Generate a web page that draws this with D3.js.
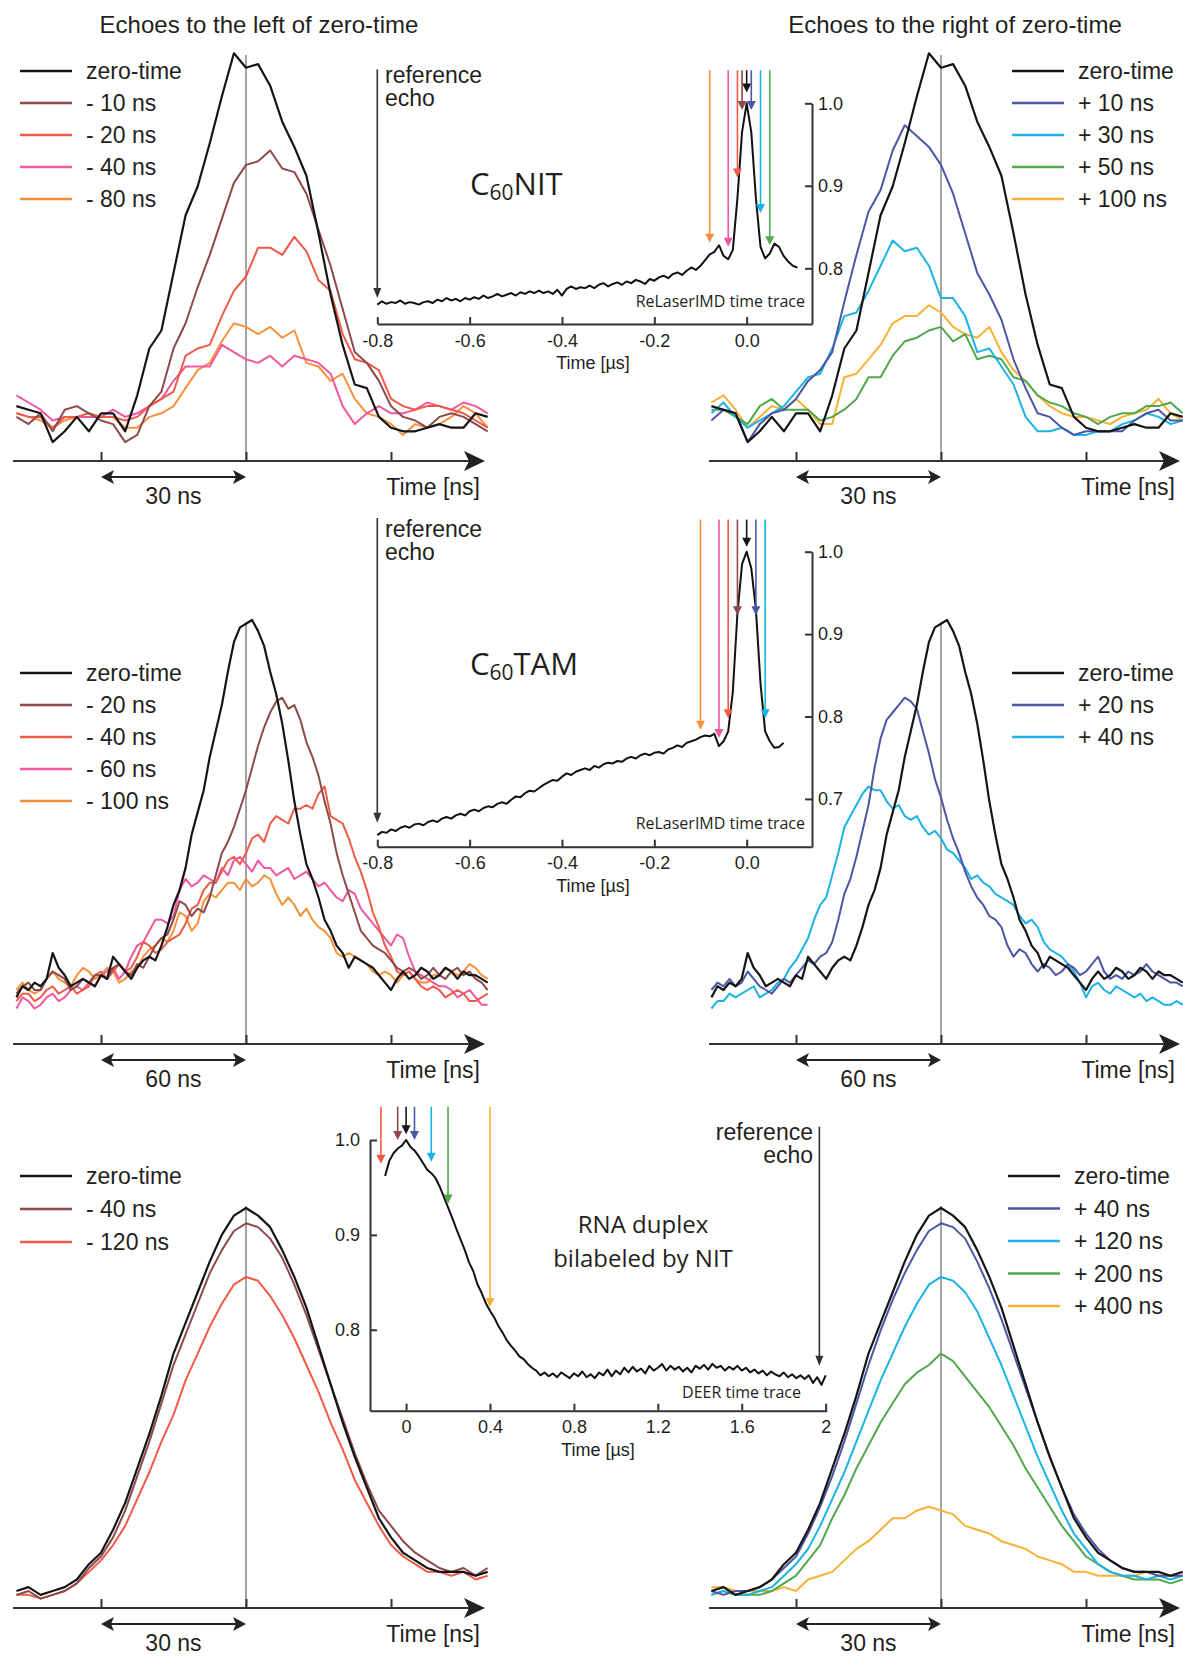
<!DOCTYPE html>
<html>
<head>
<meta charset="utf-8">
<script src="https://cdn.jsdelivr.net/npm/d3@7"></script>
<style>
body { margin: 0; background: #fff; }
</style>
</head>
<body>
<svg id="fig" width="1183" height="1656"></svg>
<script>
// ---- sampling grids (ns) ----
const tEcho = d3.range(-47.5, 50.01, 2.5);     // 30 ns panels
const tEchoWide = d3.range(-95, 100.01, 2.5);  // 60 ns panels

// ---- C60NIT echoes (relative amplitude) ----
const nitZero   = [0.02,0.01,0.0,-0.08,-0.05,-0.01,-0.05,0.0,0.0,-0.05,0.05,0.18,0.23,0.39,0.55,0.63,0.75,0.88,1.0,0.96,0.97,0.91,0.81,0.74,0.66,0.50,0.33,0.19,0.08,0.07,-0.01,-0.04,-0.05,-0.05,-0.04,-0.03,-0.04,-0.04,0.0,-0.01];
const nitMinus10 = [-0.01,-0.03,0.0,-0.05,0.01,0.02,0.0,-0.02,-0.03,-0.08,-0.06,0.02,0.06,0.18,0.25,0.35,0.44,0.54,0.64,0.69,0.70,0.73,0.68,0.67,0.61,0.51,0.41,0.29,0.17,0.14,0.09,0.02,-0.01,-0.02,-0.04,-0.01,0.0,-0.01,-0.03,-0.05];
const nitMinus20 = [0.0,-0.01,-0.01,-0.04,-0.01,-0.01,0.0,-0.01,-0.01,-0.02,-0.01,0.02,0.04,0.06,0.16,0.18,0.19,0.27,0.34,0.38,0.46,0.46,0.44,0.49,0.45,0.37,0.34,0.22,0.15,0.14,0.12,0.04,0.02,0.01,0.02,0.02,0.01,0.0,-0.02,-0.04];
const nitMinus40 = [0.05,0.03,0.01,-0.02,-0.01,-0.01,-0.01,-0.01,0.01,-0.01,0.0,0.02,0.04,0.09,0.13,0.13,0.13,0.19,0.17,0.15,0.14,0.16,0.13,0.16,0.15,0.14,0.11,0.02,-0.03,0.0,0.02,0.0,0.0,0.01,0.03,0.02,0.01,0.03,0.02,0.0];
const nitMinus80 = [0.0,-0.01,-0.02,-0.04,-0.02,-0.01,-0.01,-0.01,-0.01,-0.04,-0.04,-0.01,0.0,0.02,0.07,0.12,0.14,0.20,0.25,0.24,0.22,0.24,0.21,0.23,0.14,0.13,0.09,0.11,0.04,0.0,-0.01,-0.03,-0.06,-0.03,-0.04,-0.03,-0.01,0.02,0.0,-0.04];
const nitPlus10  = [-0.02,0.01,0.0,-0.08,-0.03,0.0,0.01,0.04,0.09,0.12,0.17,0.31,0.44,0.56,0.62,0.73,0.80,0.77,0.74,0.69,0.61,0.50,0.39,0.33,0.26,0.15,0.07,0.0,-0.01,-0.04,-0.06,-0.05,-0.05,-0.05,-0.05,-0.02,0.0,0.01,-0.02,-0.02];
const nitPlus30  = [0.0,0.03,-0.01,-0.04,-0.02,0.0,0.02,0.06,0.10,0.11,0.18,0.27,0.28,0.34,0.41,0.48,0.45,0.46,0.41,0.32,0.32,0.27,0.17,0.18,0.13,0.08,-0.01,-0.05,-0.05,-0.04,-0.06,-0.06,-0.05,-0.05,-0.03,-0.02,0.0,-0.01,-0.03,-0.02];
const nitPlus50  = [0.01,0.01,-0.01,-0.03,0.02,0.04,0.01,0.01,0.01,-0.02,-0.01,0.01,0.04,0.10,0.10,0.16,0.20,0.21,0.23,0.24,0.20,0.22,0.15,0.16,0.15,0.10,0.09,0.05,0.03,0.02,0.0,-0.01,-0.03,-0.01,0.0,0.0,0.02,0.02,0.03,0.0];
const nitPlus100 = [0.03,0.05,0.01,-0.04,-0.01,0.02,0.01,0.04,0.01,-0.03,-0.03,0.10,0.11,0.15,0.19,0.25,0.27,0.27,0.30,0.28,0.24,0.22,0.21,0.24,0.17,0.12,0.09,0.05,0.02,0.0,-0.01,-0.01,-0.02,-0.03,-0.01,0.0,0.01,0.04,0.0,-0.02];

// ---- C60TAM echoes ----
const tamZero = [-0.02,0.01,0.0,0.02,0.01,0.03,0.10,0.06,0.04,0.01,0.02,0.03,0.02,0.01,0.04,0.03,0.09,0.07,0.05,0.03,
  0.06,0.08,0.09,0.08,0.12,0.17,0.23,0.27,0.33,0.42,0.48,0.54,0.63,0.70,0.77,0.86,0.94,0.98,0.99,1.0,
  0.97,0.93,0.86,0.80,0.72,0.62,0.51,0.42,0.34,0.30,0.25,0.19,0.16,0.12,0.10,0.06,0.09,0.08,0.07,0.06,
  0.04,0.02,0.0,0.03,0.05,0.03,0.04,0.06,0.05,0.03,0.04,0.06,0.05,0.03,0.05,0.04,0.04,0.03,0.02];
const tamMinus20 = [-0.01,0.01,0.02,0.0,0.0,0.03,0.05,0.04,0.03,0.0,0.01,0.03,0.02,0.04,0.04,0.03,0.06,0.07,0.05,0.04,
  0.07,0.06,0.09,0.12,0.14,0.15,0.19,0.24,0.23,0.20,0.22,0.21,0.25,0.31,0.37,0.40,0.44,0.49,0.54,0.60,
  0.66,0.71,0.75,0.78,0.79,0.76,0.77,0.73,0.67,0.63,0.58,0.51,0.45,0.37,0.31,0.26,0.21,0.16,0.14,0.12,
  0.11,0.10,0.08,0.06,0.05,0.06,0.05,0.03,0.04,0.06,0.04,0.03,0.05,0.06,0.04,0.05,0.03,0.02,0.0];
const tamMinus40 = [-0.03,-0.01,-0.01,-0.03,-0.02,0.0,0.01,-0.01,0.0,0.01,-0.01,0.0,0.01,0.04,0.05,0.03,0.05,0.07,0.05,0.06,
  0.09,0.13,0.12,0.10,0.11,0.13,0.14,0.15,0.18,0.22,0.23,0.27,0.29,0.29,0.32,0.35,0.36,0.34,0.37,0.41,
  0.42,0.40,0.45,0.47,0.46,0.45,0.49,0.49,0.50,0.49,0.53,0.55,0.47,0.46,0.45,0.41,0.36,0.32,0.27,0.21,
  0.17,0.12,0.09,0.05,0.04,0.05,0.03,0.01,0.0,0.01,0.0,-0.02,-0.01,0.0,-0.01,-0.03,-0.03,-0.02,-0.01];
const tamMinus60 = [-0.05,-0.02,-0.03,-0.05,-0.04,-0.02,-0.01,-0.03,-0.02,0.0,0.01,0.0,0.02,0.01,0.04,0.05,0.06,0.03,0.05,0.09,
  0.12,0.13,0.16,0.19,0.19,0.18,0.20,0.27,0.30,0.28,0.29,0.31,0.30,0.29,0.33,0.31,0.35,0.36,0.34,0.32,
  0.35,0.33,0.33,0.31,0.32,0.33,0.30,0.31,0.32,0.30,0.28,0.29,0.27,0.25,0.24,0.27,0.26,0.22,0.20,0.18,
  0.16,0.14,0.12,0.15,0.14,0.09,0.05,0.04,0.03,0.02,0.01,0.01,0.0,-0.02,-0.01,0.0,-0.02,-0.04,-0.04];
const tamMinus100 = [0.0,0.02,0.0,-0.01,0.0,0.03,0.05,0.03,0.02,0.01,0.04,0.06,0.05,0.03,0.04,0.06,0.05,0.02,0.03,0.05,
  0.06,0.09,0.11,0.12,0.14,0.13,0.16,0.21,0.20,0.16,0.18,0.24,0.26,0.25,0.27,0.29,0.29,0.27,0.30,0.28,
  0.29,0.31,0.30,0.26,0.23,0.25,0.23,0.20,0.22,0.19,0.17,0.16,0.14,0.10,0.09,0.10,0.09,0.08,0.07,0.05,
  0.04,0.05,0.04,0.02,0.04,0.05,0.03,0.02,0.02,0.04,0.04,0.06,0.05,0.04,0.05,0.07,0.06,0.04,0.03];
const tamPlus20 = [0.0,0.02,0.01,0.03,0.01,0.02,0.05,0.03,0.01,0.0,-0.01,0.01,0.03,0.02,0.04,0.06,0.08,0.07,0.09,0.10,
  0.13,0.19,0.26,0.30,0.36,0.43,0.50,0.60,0.68,0.73,0.75,0.77,0.79,0.78,0.76,0.70,0.64,0.57,0.52,0.46,
  0.41,0.37,0.32,0.28,0.25,0.23,0.20,0.19,0.17,0.12,0.09,0.11,0.10,0.07,0.05,0.07,0.06,0.04,0.05,0.07,
  0.06,0.04,0.05,0.07,0.09,0.05,0.03,0.04,0.03,0.05,0.04,0.05,0.07,0.05,0.04,0.03,0.02,0.02,0.01];
const tamPlus40 = [-0.05,-0.03,-0.03,-0.01,-0.02,-0.01,0.0,0.01,-0.02,-0.01,0.0,0.02,0.03,0.06,0.08,0.11,0.14,0.19,0.23,0.25,
  0.31,0.37,0.44,0.47,0.50,0.53,0.55,0.54,0.54,0.51,0.49,0.50,0.47,0.46,0.47,0.44,0.42,0.43,0.41,0.38,
  0.37,0.35,0.33,0.30,0.31,0.29,0.28,0.26,0.25,0.24,0.23,0.20,0.18,0.19,0.17,0.13,0.11,0.10,0.09,0.07,
  0.05,0.02,-0.02,0.01,0.02,0.0,-0.01,0.01,0.0,-0.01,-0.02,-0.01,-0.03,-0.02,-0.03,-0.04,-0.04,-0.03,-0.04];

// ---- RNA duplex echoes ----
const rnaZero     = [0.0,0.01,-0.01,0.0,0.01,0.03,0.07,0.10,0.16,0.23,0.32,0.41,0.51,0.62,0.70,0.78,0.86,0.93,0.98,1.0,0.98,0.95,0.89,0.82,0.74,0.64,0.54,0.44,0.35,0.27,0.19,0.14,0.10,0.08,0.06,0.05,0.05,0.05,0.04,0.05];
const rnaMinus40  = [-0.01,0.0,-0.02,-0.01,0.0,0.02,0.06,0.09,0.14,0.21,0.30,0.39,0.49,0.59,0.67,0.75,0.83,0.89,0.94,0.96,0.95,0.92,0.87,0.80,0.72,0.63,0.54,0.45,0.36,0.28,0.21,0.17,0.13,0.10,0.08,0.06,0.05,0.06,0.04,0.06];
const rnaMinus120 = [-0.01,-0.01,-0.02,-0.01,0.0,0.02,0.05,0.08,0.12,0.17,0.24,0.31,0.39,0.46,0.55,0.62,0.69,0.75,0.80,0.82,0.81,0.77,0.72,0.66,0.59,0.52,0.44,0.37,0.29,0.23,0.17,0.12,0.09,0.07,0.05,0.05,0.04,0.05,0.03,0.04];
const rnaPlus40   = [0.0,-0.01,0.0,0.0,0.01,0.03,0.06,0.09,0.15,0.22,0.30,0.39,0.49,0.59,0.68,0.76,0.83,0.89,0.94,0.96,0.95,0.92,0.86,0.79,0.71,0.62,0.53,0.44,0.35,0.27,0.20,0.15,0.11,0.08,0.06,0.05,0.05,0.04,0.04,0.04];
const rnaPlus120  = [-0.01,0.0,-0.01,-0.01,0.0,0.01,0.04,0.07,0.11,0.17,0.24,0.31,0.39,0.47,0.55,0.62,0.69,0.75,0.80,0.82,0.81,0.78,0.73,0.66,0.59,0.51,0.43,0.35,0.28,0.21,0.15,0.11,0.07,0.05,0.04,0.04,0.03,0.04,0.03,0.04];
const rnaPlus200  = [-0.01,0.0,-0.01,-0.01,-0.01,0.0,0.02,0.04,0.08,0.12,0.19,0.25,0.32,0.38,0.44,0.49,0.54,0.57,0.59,0.62,0.60,0.56,0.52,0.48,0.43,0.38,0.32,0.27,0.22,0.17,0.13,0.09,0.07,0.05,0.04,0.03,0.03,0.03,0.02,0.03];
const rnaPlus400  = [0.01,0.01,0.0,0.0,0.0,0.0,0.01,0.0,0.03,0.04,0.05,0.08,0.11,0.13,0.16,0.19,0.19,0.21,0.22,0.21,0.20,0.17,0.16,0.15,0.13,0.12,0.11,0.09,0.08,0.07,0.05,0.05,0.04,0.04,0.04,0.04,0.05,0.04,0.04,0.04];

// ---- inset time traces ----
const nitTraceT = d3.range(-0.80, 0.1101, 0.01);   // µs
const nitTrace = [0.756,0.760,0.757,0.759,0.758,0.761,0.757,0.759,0.758,0.756,
  0.759,0.760,0.758,0.762,0.760,0.764,0.761,0.763,0.760,0.764,
  0.762,0.765,0.763,0.767,0.764,0.766,0.769,0.766,0.768,0.770,
  0.767,0.771,0.769,0.772,0.770,0.773,0.770,0.772,0.769,0.774,
  0.767,0.775,0.778,0.775,0.777,0.776,0.779,0.776,0.780,0.782,
  0.778,0.781,0.783,0.780,0.784,0.782,0.786,0.784,0.781,0.787,
  0.785,0.789,0.791,0.788,0.793,0.795,0.792,0.797,0.801,0.798,
  0.803,0.810,0.817,0.820,0.828,0.815,0.811,0.822,0.885,0.965,
  1.000,0.965,0.885,0.826,0.812,0.818,0.830,0.826,0.815,0.808,
  0.803,0.801];
const tamTraceT = d3.range(-0.80, 0.0801, 0.01);
const tamTrace = [0.656,0.660,0.659,0.663,0.661,0.665,0.667,0.665,0.669,0.670,
  0.668,0.672,0.674,0.672,0.676,0.678,0.676,0.680,0.682,0.680,
  0.685,0.687,0.685,0.689,0.691,0.690,0.694,0.696,0.694,0.699,
  0.703,0.702,0.707,0.710,0.709,0.713,0.717,0.720,0.723,0.722,
  0.727,0.731,0.729,0.733,0.735,0.737,0.735,0.740,0.738,0.742,
  0.744,0.743,0.746,0.745,0.749,0.751,0.749,0.753,0.755,0.753,
  0.756,0.757,0.755,0.760,0.762,0.765,0.763,0.768,0.770,0.772,
  0.775,0.777,0.776,0.779,0.764,0.770,0.782,0.830,0.925,0.985,
  1.000,0.980,0.930,0.840,0.782,0.770,0.762,0.763,0.768];
const deerTraceT = d3.range(-0.10, 2.0001, 0.02);
const deerTrace = [0.962,0.978,0.986,0.991,0.994,1.000,0.993,0.989,0.983,0.976,
  0.969,0.965,0.960,0.951,0.940,0.929,0.918,0.906,0.895,0.884,
  0.871,0.862,0.848,0.839,0.828,0.820,0.813,0.804,0.797,0.789,
  0.783,0.778,0.772,0.769,0.764,0.760,0.757,0.752,0.755,0.751,
  0.754,0.750,0.755,0.752,0.749,0.754,0.751,0.756,0.750,0.753,
  0.749,0.755,0.752,0.758,0.751,0.757,0.753,0.760,0.755,0.761,
  0.756,0.759,0.754,0.762,0.757,0.760,0.764,0.757,0.762,0.758,
  0.761,0.756,0.760,0.755,0.762,0.759,0.763,0.758,0.764,0.760,
  0.762,0.757,0.761,0.758,0.762,0.757,0.760,0.755,0.758,0.754,
  0.757,0.752,0.756,0.753,0.751,0.755,0.750,0.753,0.749,0.752,
  0.748,0.752,0.744,0.750,0.742,0.752];

// ---- pointer arrows on the insets (offset in ns, tip height) ----
const nitArrowNs  = [-80, -40, -20, -10, 0, 10, 30, 50];
const nitArrowTip = [0.831, 0.826, 0.91, 0.992, 1.013, 0.992, 0.867, 0.828];
const tamArrowNs  = [-100, -60, -40, -20, 0, 20, 40];
const tamArrowTip = [0.784, 0.774, 0.798, 0.923, 1.006, 0.923, 0.798];
const deerArrowNs  = [-120, -40, 0, 40, 120, 200, 400];
const deerArrowTip = [0.975, 1.0, 1.006, 1.0, 0.977, 0.933, 0.824];

// ---- labels ----
const nitLeftLabels  = ["zero-time", "- 10 ns", "- 20 ns", "- 40 ns", "- 80 ns"];
const nitRightLabels = ["zero-time", "+ 10 ns", "+ 30 ns", "+ 50 ns", "+ 100 ns"];
const tamLeftLabels  = ["zero-time", "- 20 ns", "- 40 ns", "- 60 ns", "- 100 ns"];
const tamRightLabels = ["zero-time", "+ 20 ns", "+ 40 ns"];
const rnaLeftLabels  = ["zero-time", "- 40 ns", "- 120 ns"];
const rnaRightLabels = ["zero-time", "+ 40 ns", "+ 120 ns", "+ 200 ns", "+ 400 ns"];
const nitInsetTicks  = [-0.8, -0.6, -0.4, -0.2, 0.0];
const nitInsetYTicks = [0.8, 0.9, 1.0];
const tamInsetYTicks = [0.7, 0.8, 0.9, 1.0];
const deerInsetTicks = [0, 0.4, 0.8, 1.2, 1.6, 2];
const deerInsetYTicks = [0.8, 0.9, 1.0];

const C = {zero: "#151515", brown: "#8d4a4a", red: "#f15a47", pink: "#f0589f", orange: "#f7913b",
           blue: "#4b56a4", cyan: "#1cb2e4", green: "#51a74b", yellow: "#f8b135"};
const ARIAL = "'Liberation Sans', Arial, Helvetica, sans-serif";
const MYRIAD = "'Open Sans', 'Noto Sans', sans-serif";
const INK = "#231f20";
const AXC = "#333";

const svg = d3.select("#fig");

function addText(g, x, y, str, size, anchor, family) {
	return g.append("text").attr("x", x).attr("y", y).attr("font-size", size)
		.attr("font-family", family || ARIAL).attr("fill", INK)
		.attr("text-anchor", anchor || "start").text(str);
}

function echoPanel(p) {
	var g = svg.append("g");
	var x = d3.scaleLinear().domain([-p.span, 0]).range([p.zeroX - 145, p.zeroX]);
	var y = d3.scaleLinear().domain([0, 1]).range([p.yBase, p.yPeak]);
	var line = d3.line().x(function(d, i) { return x(p.times[i]); }).y(function(d) { return y(d); });

	g.append("line").attr("x1", x(0)).attr("x2", x(0)).attr("y1", p.grayTop).attr("y2", p.axisY)
		.attr("stroke", "#8e8e8e").attr("stroke-width", 1.6);

	p.series.slice().reverse().forEach(function(s) {
		g.append("path").datum(s.values).attr("d", line).attr("fill", "none")
			.attr("stroke", s.color).attr("stroke-width", s.color == C.zero ? 2.2 : 2)
			.attr("stroke-linejoin", "round");
	});

	var ax = g.append("g").attr("transform", "translate(0," + p.axisY + ")")
		.call(d3.axisBottom(x).tickValues([-p.span, 0, p.span]).tickSize(-9).tickFormat(""));
	ax.select(".domain").remove();
	ax.selectAll(".tick line").attr("stroke", AXC).attr("stroke-width", 2);

	g.append("line").attr("x1", p.axisX0).attr("x2", p.axisTip - 14).attr("y1", p.axisY).attr("y2", p.axisY)
		.attr("stroke", AXC).attr("stroke-width", 2.2);
	g.append("path").attr("fill", "#222")
		.attr("d", "M" + p.axisTip + "," + p.axisY + " l-21,-10 l5,10 l-5,10z");

	// span marker
	var ya = p.axisY + 16, xa = x(-p.span), xb = x(0);
	g.append("line").attr("x1", xa + 6).attr("x2", xb - 6).attr("y1", ya).attr("y2", ya)
		.attr("stroke", "#222").attr("stroke-width", 2);
	g.append("path").attr("fill", "#222")
		.attr("d", "M" + xa + "," + ya + " l13,-7 l-3,7 l3,7z M" + xb + "," + ya + " l-13,-7 l3,7 l-3,7z");
	addText(g, (xa + xb) / 2, p.axisY + 43, p.span + " ns", 23, "middle");
	addText(g, p.axisTip - 5, p.axisY + 34, "Time [ns]", 23, "end");

	p.series.forEach(function(s, i) {
		var ly = p.legendY + i * p.legendGap;
		g.append("line").attr("x1", p.legendX).attr("x2", p.legendX + 52).attr("y1", ly).attr("y2", ly)
			.attr("stroke", s.color).attr("stroke-width", 2.4);
		addText(g, p.legendX + 66, ly + 8, s.label, 23);
	});
}

function insetArrow(g, xp, y0, y1, color, w, h) {
	g.append("line").attr("x1", xp).attr("x2", xp).attr("y1", y0).attr("y2", y1 - h + 1)
		.attr("stroke", color).attr("stroke-width", 1.6);
	g.append("path").attr("fill", color)
		.attr("d", "M" + (xp - w / 2) + "," + (y1 - h) + " L" + (xp + w / 2) + "," + (y1 - h) + " L" + xp + "," + y1 + "z");
}

function inset(p) {
	var g = svg.append("g");
	var x = d3.scaleLinear().domain(p.xDom).range(p.xRange);
	var y = d3.scaleLinear().domain(p.yDom).range(p.yRange);

	var ax = g.append("g").attr("transform", "translate(0," + p.yRange[0] + ")")
		.call(d3.axisBottom(x).tickValues(p.xTicks).tickSize(-7).tickSizeOuter(0).tickPadding(10).tickFormat(p.xFmt));
	var ay;
	if (p.yAxisRight) {
		ay = g.append("g").attr("transform", "translate(" + p.xRange[1] + ",0)")
			.call(d3.axisRight(y).tickValues(p.yTicks).tickSize(-7).tickSizeOuter(0).tickPadding(6).tickFormat(function(d) { return d.toFixed(1); }));
	} else {
		ay = g.append("g").attr("transform", "translate(" + p.xRange[0] + ",0)")
			.call(d3.axisLeft(y).tickValues(p.yTicks).tickSize(-7).tickSizeOuter(0).tickPadding(10).tickFormat(function(d) { return d.toFixed(1); }));
	}
	[ax, ay].forEach(function(a) {
		a.attr("font-family", ARIAL).attr("font-size", 18);
		a.select(".domain").attr("stroke", AXC).attr("stroke-width", 2);
		a.selectAll(".tick line").attr("stroke", AXC).attr("stroke-width", 2);
		a.selectAll(".tick text").attr("fill", INK);
	});
	addText(g, p.xLabelX, p.yRange[0] + 45, "Time [µs]", 18, "middle");

	var line = d3.line().x(function(d, i) { return x(p.traceT[i]); }).y(function(d) { return y(d); });
	g.append("path").datum(p.trace).attr("d", line).attr("fill", "none")
		.attr("stroke", "#111").attr("stroke-width", 2).attr("stroke-linejoin", "round");

	p.arrowNs.forEach(function(ns, i) {
		insetArrow(g, x(ns / 1000), y(p.arrowTop), y(p.arrowTip[i]), p.arrowColors[i], 9, 9);
	});
	insetArrow(g, x(p.refT), y(p.refTop), y(p.refTip), "#333", 8, 10);

	addText(g, p.refTextX, p.refTextY, "reference", 23, p.refAnchor);
	addText(g, p.refTextX, p.refTextY + 23, "echo", 23, p.refAnchor);
	addText(g, p.traceLabelX, p.traceLabelY, p.traceLabel, 16, "end", MYRIAD);
	return g;
}

function sampleName(g, x, y, sub, rest) {
	var t = addText(g, x, y, "C", 31, "start", MYRIAD);
	t.append("tspan").attr("font-size", 21).attr("dy", 5).text(sub);
	t.append("tspan").attr("dy", -5).text(rest);
}

// titles
addText(svg, 259, 33, "Echoes to the left of zero-time", 24, "middle");
addText(svg, 955, 33, "Echoes to the right of zero-time", 24, "middle");

// ---- row 1: C60NIT ----
echoPanel({zeroX: 246, span: 30, times: tEcho, yBase: 413.3, yPeak: 53.3, axisY: 461, axisX0: 13, axisTip: 485,
	grayTop: 55, legendX: 20, legendY: 71, legendGap: 32,
	series: [{values: nitZero, color: C.zero}, {values: nitMinus10, color: C.brown}, {values: nitMinus20, color: C.red},
	         {values: nitMinus40, color: C.pink}, {values: nitMinus80, color: C.orange}]
	         .map(function(s, i) { s.label = nitLeftLabels[i]; return s; })});
echoPanel({zeroX: 941, span: 30, times: tEcho, yBase: 413.3, yPeak: 53.3, axisY: 461, axisX0: 709, axisTip: 1180,
	grayTop: 55, legendX: 1012, legendY: 71, legendGap: 32,
	series: [{values: nitZero, color: C.zero}, {values: nitPlus10, color: C.blue}, {values: nitPlus30, color: C.cyan},
	         {values: nitPlus50, color: C.green}, {values: nitPlus100, color: C.yellow}]
	         .map(function(s, i) { s.label = nitRightLabels[i]; return s; })});

var g1 = inset({xDom: [-0.8, 0.1415], xRange: [377.3, 812], yDom: [0.7325, 1.0], yRange: [324, 103.3],
	xTicks: nitInsetTicks, yTicks: nitInsetYTicks, yAxisRight: true, xFmt: function(d) { return d.toFixed(1); },
	xLabelX: 593, traceT: nitTraceT, trace: nitTrace,
	arrowNs: nitArrowNs, arrowTip: nitArrowTip, arrowTop: 1.04,
	arrowColors: [C.orange, C.pink, C.red, C.brown, C.zero, C.blue, C.cyan, C.green],
	refT: -0.8, refTop: 1.041, refTip: 0.764, refTextX: 385, refTextY: 83, refAnchor: "start",
	traceLabel: "ReLaserIMD time trace", traceLabelX: 805, traceLabelY: 307});
sampleName(g1, 470, 195, "60", "NIT");

// ---- row 2: C60TAM ----
echoPanel({zeroX: 246, span: 60, times: tEchoWide, yBase: 990, yPeak: 620, axisY: 1044, axisX0: 13, axisTip: 485,
	grayTop: 622, legendX: 20, legendY: 673, legendGap: 32,
	series: [{values: tamZero, color: C.zero}, {values: tamMinus20, color: C.brown}, {values: tamMinus40, color: C.red},
	         {values: tamMinus60, color: C.pink}, {values: tamMinus100, color: C.orange}]
	         .map(function(s, i) { s.label = tamLeftLabels[i]; return s; })});
echoPanel({zeroX: 941, span: 60, times: tEchoWide, yBase: 990, yPeak: 620, axisY: 1044, axisX0: 709, axisTip: 1180,
	grayTop: 622, legendX: 1012, legendY: 673, legendGap: 32,
	series: [{values: tamZero, color: C.zero}, {values: tamPlus20, color: C.blue}, {values: tamPlus40, color: C.cyan}]
	         .map(function(s, i) { s.label = tamRightLabels[i]; return s; })});

var g2 = inset({xDom: [-0.8, 0.1415], xRange: [377.3, 812], yDom: [0.642, 1.0], yRange: [846.7, 551.7],
	xTicks: nitInsetTicks, yTicks: tamInsetYTicks, yAxisRight: true, xFmt: function(d) { return d.toFixed(1); },
	xLabelX: 593, traceT: tamTraceT, trace: tamTrace,
	arrowNs: tamArrowNs, arrowTip: tamArrowTip, arrowTop: 1.039,
	arrowColors: [C.orange, C.pink, C.red, C.brown, C.zero, C.blue, C.cyan],
	refT: -0.8, refTop: 1.041, refTip: 0.671, refTextX: 385, refTextY: 537, refAnchor: "start",
	traceLabel: "ReLaserIMD time trace", traceLabelX: 805, traceLabelY: 829});
sampleName(g2, 470, 675, "60", "TAM");

// ---- row 3: RNA duplex ----
echoPanel({zeroX: 246, span: 30, times: tEcho, yBase: 1591, yPeak: 1208, axisY: 1608, axisX0: 13, axisTip: 485,
	grayTop: 1206, legendX: 20, legendY: 1176, legendGap: 33,
	series: [{values: rnaZero, color: C.zero}, {values: rnaMinus40, color: C.brown}, {values: rnaMinus120, color: C.red}]
	         .map(function(s, i) { s.label = rnaLeftLabels[i]; return s; })});
echoPanel({zeroX: 941, span: 30, times: tEcho, yBase: 1591, yPeak: 1208, axisY: 1608, axisX0: 709, axisTip: 1180,
	grayTop: 1206, legendX: 1008, legendY: 1176, legendGap: 32.5,
	series: [{values: rnaZero, color: C.zero}, {values: rnaPlus40, color: C.blue}, {values: rnaPlus120, color: C.cyan},
	         {values: rnaPlus200, color: C.green}, {values: rnaPlus400, color: C.yellow}]
	         .map(function(s, i) { s.label = rnaRightLabels[i]; return s; })});

var g3 = inset({xDom: [-0.172, 2.005], xRange: [370, 826.7], yDom: [0.7147, 1.0], yRange: [1410.7, 1140],
	xTicks: deerInsetTicks, yTicks: deerInsetYTicks, yAxisRight: false, xFmt: function(d) { return String(d); },
	xLabelX: 598, traceT: deerTraceT, trace: deerTrace,
	arrowNs: deerArrowNs, arrowTip: deerArrowTip, arrowTop: 1.035,
	arrowColors: [C.red, C.brown, C.zero, C.blue, C.cyan, C.green, C.yellow],
	refT: 1.97, refTop: 1.014, refTip: 0.762, refTextX: 813, refTextY: 1140, refAnchor: "end",
	traceLabel: "DEER time trace", traceLabelX: 801, traceLabelY: 1398});
addText(g3, 643, 1233, "RNA duplex", 24, "middle", MYRIAD);
addText(g3, 643, 1267, "bilabeled by NIT", 24, "middle", MYRIAD);
</script>
</body>
</html>
